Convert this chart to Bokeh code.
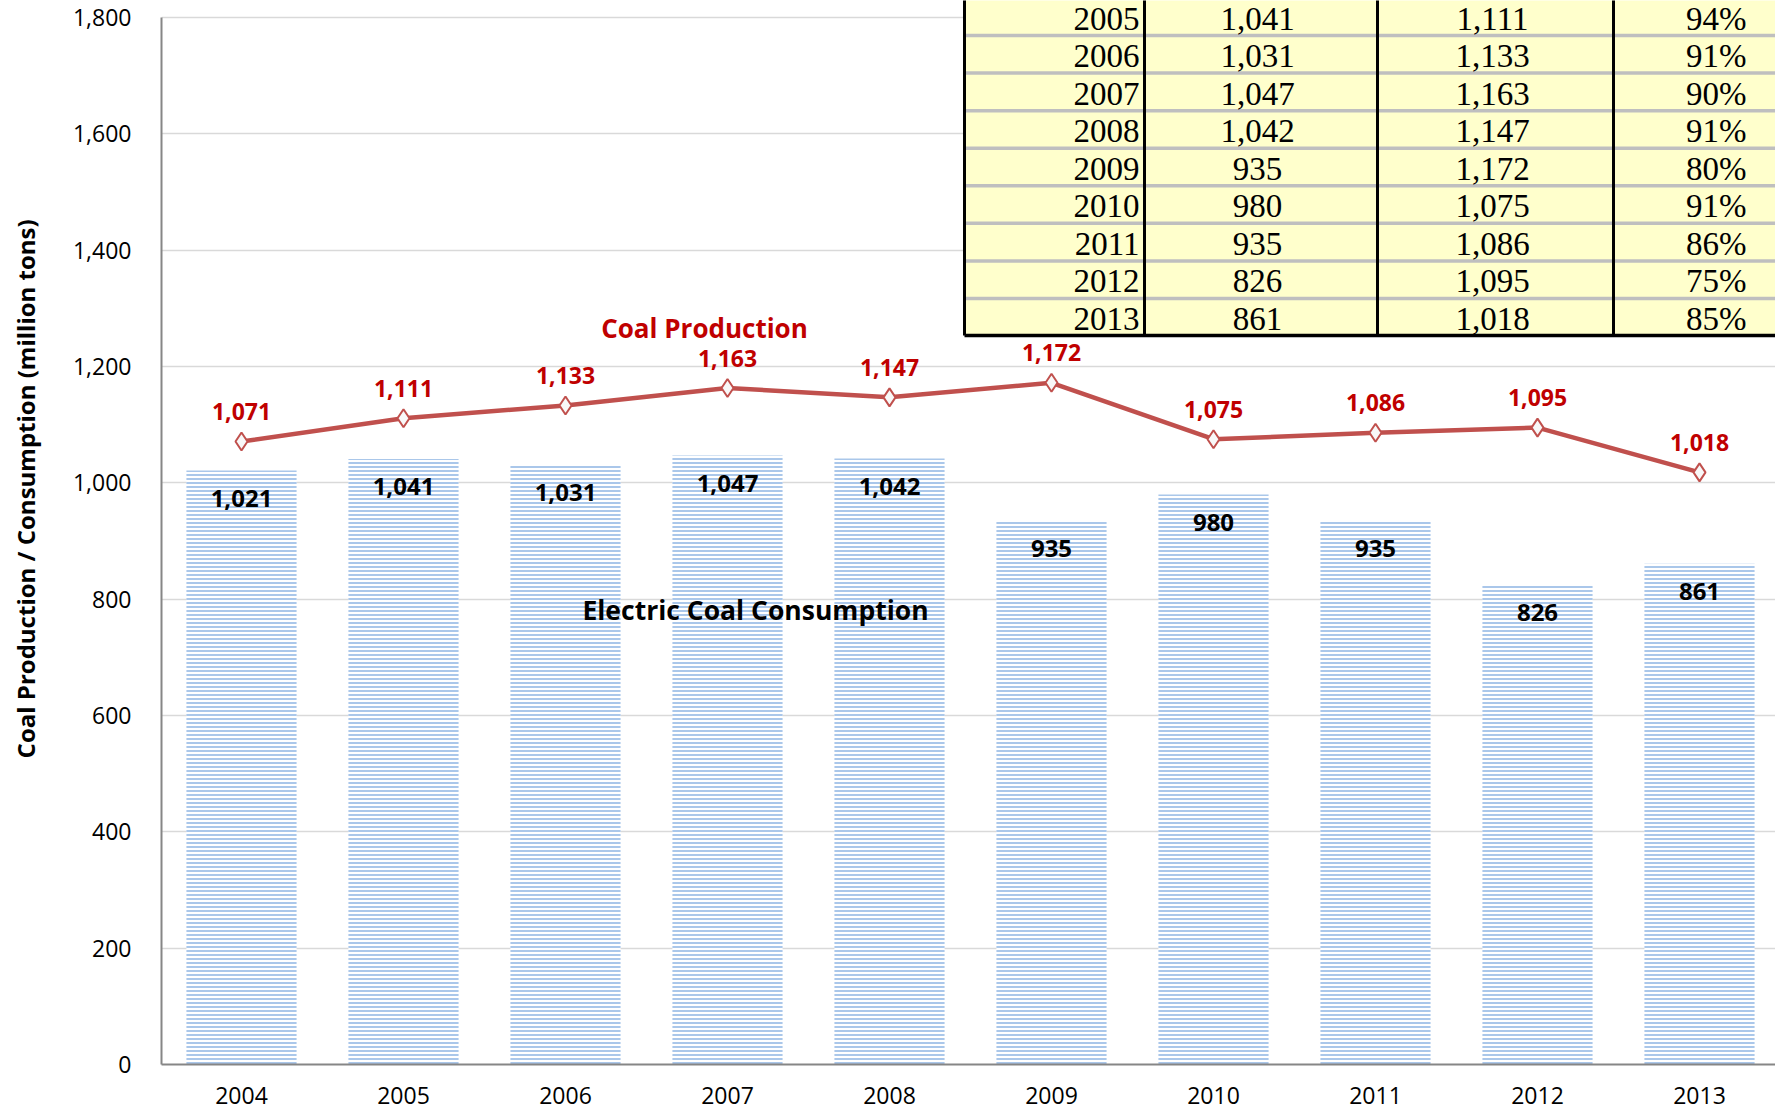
import math
from bokeh.plotting import figure
from bokeh.layouts import row
from bokeh.models import Range1d, FixedTicker, NumeralTickFormatter, Label
from bokeh.core.properties import value
from bokeh.embed import file_html
from bokeh.resources import INLINE

# ---------------- data ----------------
years = [2004, 2005, 2006, 2007, 2008, 2009, 2010, 2011, 2012, 2013]
consumption = [1021, 1041, 1031, 1047, 1042, 935, 980, 935, 826, 861]
production = [1071, 1111, 1133, 1163, 1147, 1172, 1075, 1086, 1095, 1018]
table_years = [2005, 2006, 2007, 2008, 2009, 2010, 2011, 2012, 2013]
table_consumption = [1041, 1031, 1047, 1042, 935, 980, 935, 826, 861]
table_production = [1111, 1133, 1163, 1147, 1172, 1075, 1086, 1095, 1018]
table_ratio_pct = [94, 91, 90, 91, 80, 91, 86, 75, 85]
y_ticks = [0, 200, 400, 600, 800, 1000, 1200, 1400, 1600, 1800]
y_title = "Coal Production / Consumption (million tons)"
bar_title = "Electric Coal Consumption"
line_title = "Coal Production"

# ------------- layout helpers (picture pixel -> data) -------------
W, H = 1775, 1109
TITLE_W = 50
PX_PER_YEAR = 162.0
X_2004 = 241.0
PX_PER_UNIT = 1047.0 / 1800.0
Y_ZERO = 1064.0
FRAME_LEFT = 161


def dx(sx):
    return years[0] + (sx - X_2004) / PX_PER_YEAR


def dy(sy):
    return (Y_ZERO - sy) / PX_PER_UNIT


FONT = value("Open Sans")
SERIF = value("Liberation Serif")

# ---------- narrow strip holding the rotated y title ----------
tf = figure(width=TITLE_W, height=H, x_range=Range1d(0, TITLE_W), y_range=Range1d(0, H),
            x_axis_type=None, y_axis_type=None, output_backend="svg", toolbar_location=None,
            min_border_left=0, min_border_right=0, min_border_top=0, min_border_bottom=0)
tf.outline_line_color = None
tf.grid.visible = False
tf.text(x=[25], y=[H - 509], text=[y_title], angle=math.pi / 2, text_align="center",
        text_baseline="middle", text_font=FONT, text_font_style="bold",
        text_font_size="24px", text_color="black")

# ---------------- main chart ----------------
p = figure(
    width=W - TITLE_W, height=H,
    x_range=Range1d(dx(FRAME_LEFT), dx(W)),
    y_range=Range1d(0, dy(0)),
    output_backend="svg", toolbar_location=None,
    min_border_left=FRAME_LEFT - TITLE_W, min_border_right=0, min_border_top=0,
    min_border_bottom=int(H - Y_ZERO),
)
p.outline_line_color = None
p.background_fill_color = "white"

p.xaxis.ticker = FixedTicker(ticks=years)
p.xaxis.formatter = NumeralTickFormatter(format="0")
p.yaxis.ticker = FixedTicker(ticks=y_ticks)
p.yaxis.formatter = NumeralTickFormatter(format="0,0")
p.yaxis.bounds = (0, 1800)
for ax in (p.xaxis, p.yaxis):
    ax.axis_line_color = "#868686"
    ax.axis_line_width = 2
    ax.major_tick_line_color = None
    ax.minor_tick_line_color = None
    ax.major_label_text_font = "Open Sans"
    ax.major_label_text_font_size = "23px"
    ax.major_label_text_color = "black"
p.yaxis.major_label_standoff = 24
p.xaxis.major_label_standoff = 16

p.xgrid.grid_line_color = None
p.ygrid.ticker = FixedTicker(ticks=y_ticks)
p.ygrid.grid_line_color = "#d9d9d9"
p.ygrid.grid_line_width = 1.5

# bars
p.vbar(x=years, top=consumption, width=0.68, fill_color="white", line_color=None,
       hatch_pattern="horizontal_line", hatch_color="#8eb4e3", hatch_scale=4, hatch_weight=1.5)
p.text(x=years, y=consumption, text=[f"{v:,}" for v in consumption],
       y_offset=28, text_align="center", text_baseline="middle",
       text_font=FONT, text_font_style="bold", text_font_size="24px", text_color="black")

# line
p.line(x=years, y=production, line_color="#c0504d", line_width=4.5)
p.scatter(x=years, y=production, marker="diamond", size=18, fill_color="#f8f8f8",
          line_color="#c0504d", line_width=2)
p.text(x=years, y=production, text=[f"{v:,}" for v in production],
       y_offset=-30, text_align="center", text_baseline="middle",
       text_font=FONT, text_font_style="bold", text_font_size="23px", text_color="#c00000")

# series titles
p.add_layout(Label(x=dx(704), y=dy(327), text=line_title, text_align="center",
                   text_baseline="middle", text_font="Open Sans", text_font_style="bold",
                   text_font_size="26px", text_color="#c00000"))
p.add_layout(Label(x=dx(755), y=dy(609), text=bar_title, text_align="center",
                   text_baseline="middle", text_font="Open Sans", text_font_style="bold",
                   text_font_size="26.5px", text_color="black"))

# ---------------- inset table ----------------
T_LEFT, T_RIGHT, T_TOP, T_BOTTOM = 964, 1800, -5, 335
ROW_H = 37.57
SEP0 = 35
p.quad(left=[dx(T_LEFT)], right=[dx(T_RIGHT)], top=[dy(T_TOP)], bottom=[dy(T_BOTTOM)],
       fill_color="#ffffcc", line_color=None)
n = len(table_years)
sep_y = [dy(SEP0 + ROW_H * k) for k in range(n - 1)]
p.segment(x0=[dx(T_LEFT)] * len(sep_y), x1=[dx(T_RIGHT)] * len(sep_y), y0=sep_y, y1=sep_y,
          line_color="#bfbfbf", line_width=3.5)
vx = [dx(s) for s in (T_LEFT, 1144, 1377, 1613)]
p.segment(x0=vx, x1=vx, y0=[dy(T_TOP)] * 4, y1=[dy(T_BOTTOM)] * 4, line_color="black", line_width=3)
p.segment(x0=[dx(T_LEFT)], x1=[dx(T_RIGHT)], y0=[dy(T_BOTTOM)], y1=[dy(T_BOTTOM)],
          line_color="black", line_width=3.5)

row_y = [dy(18 + ROW_H * k) for k in range(n)]
cols = [
    (1139, "right", [str(v) for v in table_years]),
    (1257, "center", [f"{v:,}" for v in table_consumption]),
    (1492, "center", [f"{v:,}" for v in table_production]),
    (1746, "right", [f"{v}%" for v in table_ratio_pct]),
]
for sx, align, texts in cols:
    p.text(x=[dx(sx)] * n, y=row_y, text=texts, text_align=align, text_baseline="middle",
           text_font=SERIF, text_font_size="33px", text_color="black")

layout = row(tf, p, spacing=0)
open("out.html", "w").write(file_html(layout, INLINE))
